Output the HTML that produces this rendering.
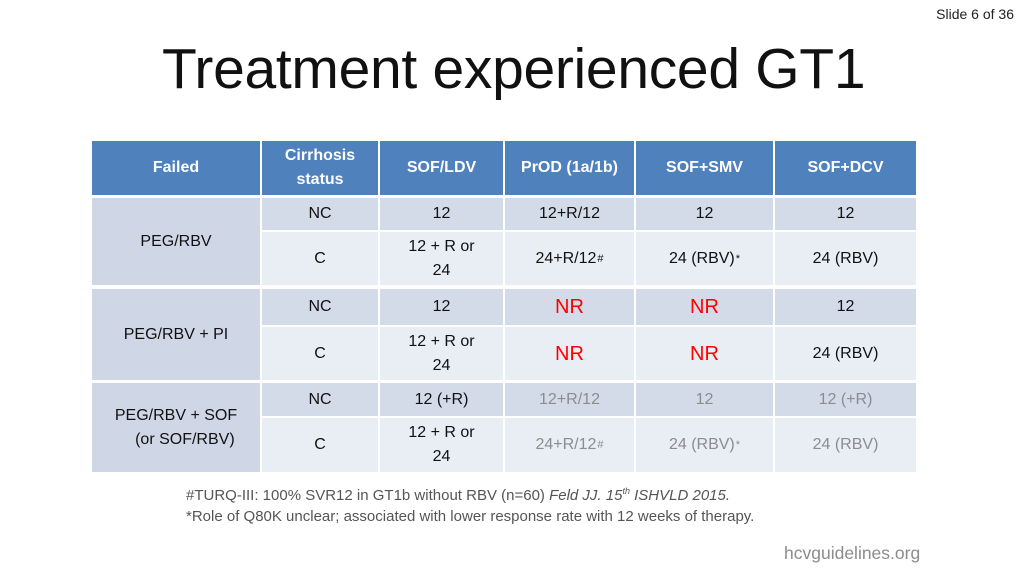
<!DOCTYPE html>
<html><head><meta charset="utf-8">
<style>
body{margin:0;width:1024px;height:576px;background:#fff;position:relative;overflow:hidden;font-family:"Liberation Sans",sans-serif;}
.c{position:absolute;display:flex;align-items:center;justify-content:center;text-align:center;font-size:16px;color:#111;line-height:24px;box-sizing:border-box;}
.h{background:#4f81bd;color:#fff;font-weight:bold;}
.f{background:#cfd7e7;}
.n{background:#d3dbe9;}
.l{background:#e9edf4;}
.g{color:#8c8c8c;}
.r{color:#ff0000;font-size:20px;}
.c sup{font-size:11px;line-height:0;vertical-align:7px;margin-left:1px;}
</style></head><body>
<div style="position:absolute;right:10px;top:6px;font-size:14px;color:#222;">Slide 6 of 36</div>
<div style="position:absolute;left:162px;top:36px;font-size:57px;color:#111;letter-spacing:-0.3px;white-space:nowrap;">Treatment experienced GT1</div>

<div>
<div class="c h" style="left:92px;top:141px;width:168px;height:54px">Failed</div>
<div class="c h" style="left:262px;top:141px;width:116px;height:54px">Cirrhosis<br>status</div>
<div class="c h" style="left:380px;top:141px;width:123px;height:54px">SOF/LDV</div>
<div class="c h" style="left:505px;top:141px;width:129px;height:54px">PrOD (1a/1b)</div>
<div class="c h" style="left:636px;top:141px;width:137px;height:54px">SOF+SMV</div>
<div class="c h" style="left:775px;top:141px;width:141px;height:54px">SOF+DCV</div>

<div class="c f" style="left:92px;top:198px;width:168px;height:87px;align-items:flex-start;padding-top:32px">PEG/RBV</div>
<div class="c n" style="left:262px;top:198px;width:116px;height:32px">NC</div>
<div class="c n" style="left:380px;top:198px;width:123px;height:32px">12</div>
<div class="c n" style="left:505px;top:198px;width:129px;height:32px">12+R/12</div>
<div class="c n" style="left:636px;top:198px;width:137px;height:32px">12</div>
<div class="c n" style="left:775px;top:198px;width:141px;height:32px">12</div>
<div class="c l" style="left:262px;top:232px;width:116px;height:53px">C</div>
<div class="c l" style="left:380px;top:232px;width:123px;height:53px">12 + R or<br>24</div>
<div class="c l" style="left:505px;top:232px;width:129px;height:53px">24+R/12<sup>#</sup></div>
<div class="c l" style="left:636px;top:232px;width:137px;height:53px">24 (RBV)<sup>*</sup></div>
<div class="c l" style="left:775px;top:232px;width:141px;height:53px">24 (RBV)</div>

<div class="c f" style="left:92px;top:289px;width:168px;height:91px;align-items:flex-start;padding-top:34px">PEG/RBV + PI</div>
<div class="c n" style="left:262px;top:289px;width:116px;height:36px">NC</div>
<div class="c n" style="left:380px;top:289px;width:123px;height:36px">12</div>
<div class="c n r" style="left:505px;top:289px;width:129px;height:36px">NR</div>
<div class="c n r" style="left:636px;top:289px;width:137px;height:36px">NR</div>
<div class="c n" style="left:775px;top:289px;width:141px;height:36px">12</div>
<div class="c l" style="left:262px;top:327px;width:116px;height:53px">C</div>
<div class="c l" style="left:380px;top:327px;width:123px;height:53px">12 + R or<br>24</div>
<div class="c l r" style="left:505px;top:327px;width:129px;height:53px">NR</div>
<div class="c l r" style="left:636px;top:327px;width:137px;height:53px">NR</div>
<div class="c l" style="left:775px;top:327px;width:141px;height:53px">24 (RBV)</div>

<div class="c f" style="left:92px;top:383px;width:168px;height:89px">PEG/RBV + SOF<br>&nbsp;&nbsp;&nbsp;&nbsp;(or SOF/RBV)</div>
<div class="c n" style="left:262px;top:383px;width:116px;height:33px">NC</div>
<div class="c n" style="left:380px;top:383px;width:123px;height:33px">12 (+R)</div>
<div class="c n g" style="left:505px;top:383px;width:129px;height:33px">12+R/12</div>
<div class="c n g" style="left:636px;top:383px;width:137px;height:33px">12</div>
<div class="c n g" style="left:775px;top:383px;width:141px;height:33px">12 (+R)</div>
<div class="c l" style="left:262px;top:418px;width:116px;height:54px">C</div>
<div class="c l" style="left:380px;top:418px;width:123px;height:54px">12 + R or<br>24</div>
<div class="c l g" style="left:505px;top:418px;width:129px;height:54px">24+R/12<sup>#</sup></div>
<div class="c l g" style="left:636px;top:418px;width:137px;height:54px">24 (RBV)<sup>*</sup></div>
<div class="c l g" style="left:775px;top:418px;width:141px;height:54px">24 (RBV)</div>
</div>

<div style="position:absolute;left:186px;top:485px;font-size:15px;line-height:21px;color:#555;white-space:nowrap;">
#TURQ-III: 100% SVR12 in GT1b without RBV (n=60) <i>Feld JJ. 15<sup style="font-size:9px;line-height:0">th</sup> ISHVLD 2015.</i><br>
*Role of Q80K unclear; associated with lower response rate with 12 weeks of therapy.
</div>
<div style="position:absolute;left:784px;top:543px;font-size:17.5px;color:#8c8c8c;">hcvguidelines.org</div>
</body></html>
